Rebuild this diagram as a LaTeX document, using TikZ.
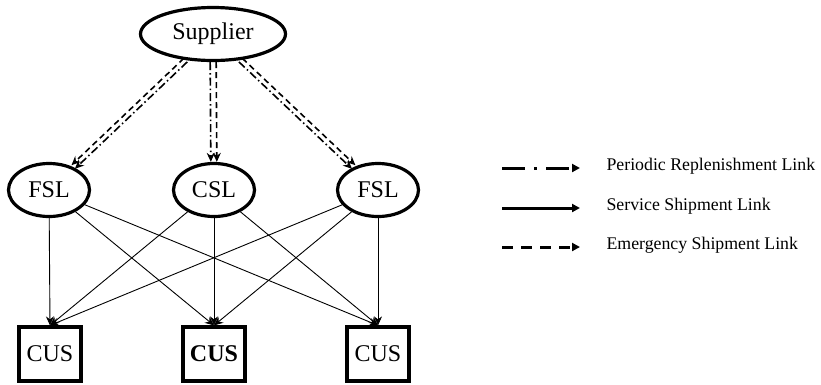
\documentclass[tikz,border=0pt]{standalone}
\usepackage{fontspec}
\setmainfont{Liberation Serif}
\usetikzlibrary{arrows.meta,shapes.geometric}
\begin{document}
\begin{tikzpicture}[x=1pt,y=-1pt,
  loc/.style={ellipse,draw,line width=3.2pt,inner sep=0pt,minimum width=81pt,minimum height=53pt,font=\fontsize{24}{28}\selectfont},
  cus/.style={rectangle,draw,line width=3.2pt,inner sep=0pt,minimum width=62pt,minimum height=54pt,font=\fontsize{24}{28}\selectfont},
  tip/.style={-{Stealth[length=9pt,width=8pt]}},
  svc/.style={tip,line width=0.9pt},
  per/.style={tip,line width=1.6pt,dash pattern=on 8pt off 3pt on 1.5pt off 3pt},
  emg/.style={tip,line width=1.6pt,dash pattern=on 6pt off 4pt},
  legtip/.style={-{Triangle[length=8pt,width=8pt]}},
  lbl/.style={anchor=west,font=\fontsize{17.8}{20}\selectfont}
]
\useasboundingbox (0,0) rectangle (821,384);

\node[loc,minimum width=145pt] (sup) at (213,34) {Supplier};
\node[loc] (f1) at (49,190) {FSL};
\node[loc] (c) at (214,190) {CSL};
\node[loc] (f2) at (378,190) {FSL};
\node[cus] (u1) at (50,354) {CUS};
\node[cus,font=\fontsize{24}{28}\selectfont\bfseries] (u2) at (214,354) {CUS};
\node[cus] (u3) at (378,354) {CUS};

\foreach \a in {f1,c,f2}
  \foreach \b in {u1,u2,u3}
    \draw[svc] (\a) -- (\b.north);

% supplier to FSL/CSL: periodic + emergency
\draw[per,transform canvas={shift={(1.7pt,-1.8pt)}}] (sup) -- (f1);
\draw[emg,transform canvas={shift={(-1.7pt,1.8pt)}}] (sup) -- (f1);
\draw[per,transform canvas={shift={(-3pt,0pt)}}] (sup) -- (c);
\draw[emg,transform canvas={shift={(3pt,0pt)}}] (sup) -- (c);
\draw[per,transform canvas={shift={(-1.7pt,-1.8pt)}}] (sup) -- (f2);
\draw[emg,transform canvas={shift={(1.7pt,1.8pt)}}] (sup) -- (f2);

% legend
\coordinate (p0) at (502,168); \coordinate (p1) at (580,168);
\coordinate (s0) at (502,208); \coordinate (s1) at (580,208);
\coordinate (e0) at (502,247); \coordinate (e1) at (580,247);
\draw[legtip,line width=3pt,dash pattern=on 23pt off 9pt on 3pt off 9pt] (p0) -- (p1);
\draw[legtip,line width=3pt] (s0) -- (s1);
\draw[legtip,line width=3pt,dash pattern=on 11pt off 8pt] (e0) -- (e1);
\node[lbl] (lp) at (603,166) {Periodic Replenishment Link};
\node[lbl] (ls) at (603,206) {Service Shipment Link};
\node[lbl] (le) at (603,245) {Emergency Shipment Link};
\end{tikzpicture}
\end{document}
